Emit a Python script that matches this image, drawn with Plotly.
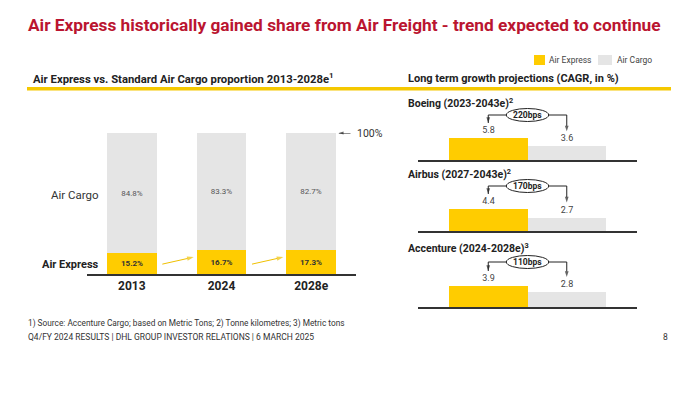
import plotly.graph_objects as go

W, H = 697, 396


def px(x):
    return x / W


def py(y):
    return 1 - y / H


# ---------------- data ----------------
years = ["2013", "2024", "2028e"]
air_express_share = [15.2, 16.7, 17.3]
air_cargo_share = [84.8, 83.3, 82.7]

panel_titles = [
    "Boeing (2023-2043e)<sup>2</sup>",
    "Airbus (2027-2043e)<sup>2</sup>",
    "Accenture (2024-2028e)<sup>3</sup>",
]
cagr_air_express = [5.8, 4.4, 3.9]
cagr_air_cargo = [3.6, 2.7, 2.8]
gap_labels = ["220bps", "170bps", "110bps"]
segments = ["Air Express", "Air Cargo"]

# ---------------- style ----------------
YEL = "#FFCC00"
GREY = "#E5E5E5"
RED = "#BA1530"
DARK = "#222222"
FONT = "Roboto"
BAR_W = 0.557

fig = go.Figure()
year_pos = list(range(len(years)))

# left stacked bars
fig.add_trace(go.Bar(
    x=year_pos, y=air_express_share, marker=dict(color=YEL, line=dict(width=0)),
    width=BAR_W, text=[f"{v}%" for v in air_express_share], hovertext=years,
    textposition="inside", insidetextanchor="middle", textangle=0,
    textfont=dict(family=FONT, size=8, color="#333333", weight="bold"),
    xaxis="x", yaxis="y", showlegend=False, name="Air Express"))
fig.add_trace(go.Bar(
    x=year_pos, y=air_cargo_share, marker=dict(color=GREY, line=dict(width=0)),
    width=BAR_W, text=[f"{v}%" for v in air_cargo_share], hovertext=years,
    textposition="inside", insidetextanchor="middle", textangle=0,
    textfont=dict(family=FONT, size=8, color="#555555"),
    xaxis="x", yaxis="y", showlegend=False, name="Air Cargo"))


def arrow(xs, ys, color, xa, ya, size=6):
    fig.add_trace(go.Scatter(
        x=xs, y=ys, mode="lines+markers", xaxis=xa, yaxis=ya,
        line=dict(color=color, width=1),
        marker=dict(symbol="arrow", angleref="previous",
                    size=[0] * (len(xs) - 1) + [size], color=color,
                    line=dict(width=0)),
        cliponaxis=False, showlegend=False, hoverinfo="skip"))


# right panels
panel_bottom = [160, 231, 307]     # baseline pixel rows
panel_bar_px = [22, 22, 21]       # pixel height of the Air Express bar
panel_title_y = [103, 174, 248]
dom_h = 55
seg_pos = list(range(len(segments)))

layout_axes = {}
shapes = []
annotations = []

for i in range(3):
    xa = f"x{i+2}"
    ya = f"y{i+2}"
    s = panel_bar_px[i] / cagr_air_express[i]  # px per unit
    ymax = dom_h / s
    vals = [cagr_air_express[i], cagr_air_cargo[i]]
    fig.add_trace(go.Bar(
        x=seg_pos, y=vals, marker=dict(color=[YEL, GREY], line=dict(width=0)),
        width=1, text=[f"{v}" for v in vals], textposition="outside", hovertext=segments,
        cliponaxis=False, textfont=dict(family=FONT, size=9, color="#444444"),
        xaxis=xa, yaxis=ya, showlegend=False))
    layout_axes[f"xaxis{i+2}"] = dict(
        domain=[px(418), px(637)], range=[-0.895, 1.895], anchor=ya,
        showline=True, linecolor="#333333", linewidth=1.5, ticks="",
        showticklabels=False, showgrid=False, zeroline=False, fixedrange=True)
    layout_axes[f"yaxis{i+2}"] = dict(
        domain=[py(panel_bottom[i]), py(panel_bottom[i] - dom_h)],
        range=[0, ymax], anchor=xa, visible=False, fixedrange=True)

    h = 45 / s
    gap = 15 / s
    # bracket with down arrows
    arrow([seg_pos[1], seg_pos[0], seg_pos[0]], [h, h, vals[0] + gap], DARK, xa, ya)
    arrow([seg_pos[1], seg_pos[1]], [h, vals[1] + gap], DARK, xa, ya)
    # oval
    shapes.append(dict(type="circle", xref=xa, yref=ya, x0=0.5 - 0.27, x1=0.5 + 0.27,
                       y0=h - 6.5 / s, y1=h + 6.5 / s, fillcolor="white",
                       line=dict(color=DARK, width=1), layer="above"))
    annotations.append(dict(xref=xa, yref=ya, x=0.5, y=h, yanchor="middle",
                            text=f"<b>{gap_labels[i]}</b>",
                            showarrow=False, font=dict(family=FONT, size=8.5, color=DARK)))
    # panel title
    annotations.append(dict(xref="paper", yref="paper", x=px(406), y=py(panel_title_y[i]),
                            xanchor="left", yanchor="middle",
                            text=f"<b>{panel_titles[i]}</b>", showarrow=False,
                            font=dict(family=FONT, size=10.5, color=DARK)))

# ---------------- left chart decorations ----------------
for i in range(len(years) - 1):
    arrow([i + 0.34, i + 0.69], [7, 12], "#F0C000", "x", "y", size=7)
# 100% arrow
right_edge = year_pos[-1] + BAR_W / 2
arrow([right_edge + 0.16, right_edge + 0.03], [100, 100], DARK, "x", "y", size=5)
annotations.append(dict(xref="x", yref="y", x=right_edge + 0.21, y=100, xanchor="left",
                        yanchor="middle", text="100%", showarrow=False,
                        font=dict(family=FONT, size=10.5, color="#333333")))
# row labels
annotations.append(dict(xref="paper", yref="paper", x=px(101), y=py(195), xanchor="right",
                        yanchor="middle", text="Air Cargo", showarrow=False,
                        font=dict(family=FONT, size=11.5, color="#333333")))
annotations.append(dict(xref="paper", yref="paper", x=px(101), y=py(264), xanchor="right",
                        yanchor="middle", text="<b>Air Express</b>", showarrow=False,
                        font=dict(family=FONT, size=11, color=DARK)))

# ---------------- header ----------------
annotations.append(dict(xref="paper", yref="paper", x=px(26), y=py(25), xanchor="left",
                        yanchor="middle",
                        text="<b>Air Express historically gained share from Air Freight - trend expected to continue</b>",
                        showarrow=False, font=dict(family=FONT, size=17.3, color=RED)))
annotations.append(dict(xref="paper", yref="paper", x=px(31), y=py(78), xanchor="left",
                        yanchor="middle",
                        text="<b>Air Express vs. Standard Air Cargo proportion 2013-2028e<sup>1</sup></b>",
                        showarrow=False, font=dict(family=FONT, size=11.3, color=DARK)))
annotations.append(dict(xref="paper", yref="paper", x=px(406), y=py(78), xanchor="left",
                        yanchor="middle",
                        text="<b>Long term growth projections (CAGR, in %)</b>",
                        showarrow=False, font=dict(family=FONT, size=11, color=DARK)))
shapes.append(dict(type="rect", xref="paper", yref="paper", x0=px(27), x1=px(671),
                   y0=py(90.5), y1=py(87), fillcolor="#F5C800", line=dict(width=0)))

# legend
shapes.append(dict(type="rect", xref="paper", yref="paper", x0=px(534), x1=px(545),
                   y0=py(65), y1=py(55), fillcolor=YEL, line=dict(width=0)))
annotations.append(dict(xref="paper", yref="paper", x=px(547), y=py(60), xanchor="left",
                        yanchor="middle", text="Air Express", showarrow=False,
                        font=dict(family=FONT, size=8.5, color="#444444")))
shapes.append(dict(type="rect", xref="paper", yref="paper", x0=px(598), x1=px(612),
                   y0=py(65), y1=py(55), fillcolor=GREY, line=dict(width=0)))
annotations.append(dict(xref="paper", yref="paper", x=px(615), y=py(60), xanchor="left",
                        yanchor="middle", text="Air Cargo", showarrow=False,
                        font=dict(family=FONT, size=8.5, color="#444444")))

# footer
annotations.append(dict(xref="paper", yref="paper", x=px(26), y=py(323), xanchor="left",
                        yanchor="middle",
                        text="1) Source: Accenture Cargo; based on Metric Tons; 2) Tonne kilometres; 3) Metric tons",
                        showarrow=False, font=dict(family=FONT, size=8.3, color="#333333")))
annotations.append(dict(xref="paper", yref="paper", x=px(26), y=py(337), xanchor="left",
                        yanchor="middle",
                        text="Q4/FY 2024 RESULTS | DHL GROUP INVESTOR RELATIONS | 6 MARCH 2025",
                        showarrow=False, font=dict(family=FONT, size=8.5, color="#333333")))
annotations.append(dict(xref="paper", yref="paper", x=px(670), y=py(337), xanchor="right",
                        yanchor="middle", text="8", showarrow=False,
                        font=dict(family=FONT, size=8.5, color="#333333")))

fig.update_layout(
    width=W, height=H, margin=dict(l=0, r=0, t=0, b=0),
    paper_bgcolor="white", plot_bgcolor="white", barmode="stack", bargap=0,
    font=dict(family=FONT), hovermode=False,
    xaxis=dict(domain=[px(87), px(356)], range=[-0.5, 2.5], anchor="y",
               tickvals=year_pos, ticktext=years,
               showline=True, linecolor="#333333", linewidth=1.5, ticks="",
               tickfont=dict(family=FONT, size=12, color=DARK, weight="bold"),
               showgrid=False, zeroline=False, fixedrange=True),
    yaxis=dict(domain=[py(274), py(133)], range=[0, 100], anchor="x",
               visible=False, fixedrange=True),
    shapes=shapes, annotations=annotations,
    **layout_axes,
)

fig.write_html("out.html", config={"displayModeBar": False},
               post_script="document.body.style.margin='0';document.body.style.overflow='hidden';")
